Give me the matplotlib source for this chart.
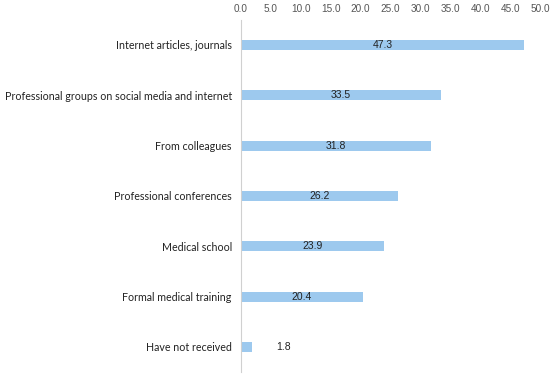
import numpy as np
import matplotlib
matplotlib.use("Agg")
from matplotlib import pyplot as plt

categories = ["Internet articles, journals",
              "Professional groups on social media and internet",
              "From colleagues",
              "Professional conferences",
              "Medical school",
              "Formal medical training",
              "Have not received"]
values = [47.3, 33.5, 31.8, 26.2, 23.9, 20.4, 1.8]
ticks = np.arange(0, 50.1, 5)

plt.rcParams['font.family'] = ['Liberation Sans', 'DejaVu Sans']

fig = plt.figure(figsize=(5.5, 3.74), dpi=100)
ax = fig.add_axes([0.438, 0.005, 0.544, 0.942])

y = np.arange(len(categories))
ax.barh(y, values, height=0.2, color="#9DC9EE")
ax.set_ylim(len(categories) - 0.5, -0.5)
ax.set_xlim(0, 50)
ax.set_yticks(y)
ax.set_yticklabels(categories, fontsize=7.65, color="#222222", family=["Lato", "DejaVu Sans"])
ax.set_xticks(ticks)
ax.set_xticklabels(["%.1f" % t for t in ticks], fontsize=7.2, color="#555555")
ax.xaxis.tick_top()
ax.tick_params(axis="both", length=0)
ax.tick_params(axis="x", pad=4)
ax.tick_params(axis="y", pad=6.5)
for s in ["top", "right", "bottom"]:
    ax.spines[s].set_visible(False)
ax.spines["left"].set_color("#d0d0d0")

for i, v in enumerate(values):
    if v > 5:
        ax.text(v / 2, i, "%.1f" % v, ha="center", va="center", fontsize=7.5, color="#222222")
    else:
        ax.text(v + 5.3, i, "%.1f" % v, ha="center", va="center", fontsize=7.5, color="#222222")

fig.savefig("out.png", dpi=100)
